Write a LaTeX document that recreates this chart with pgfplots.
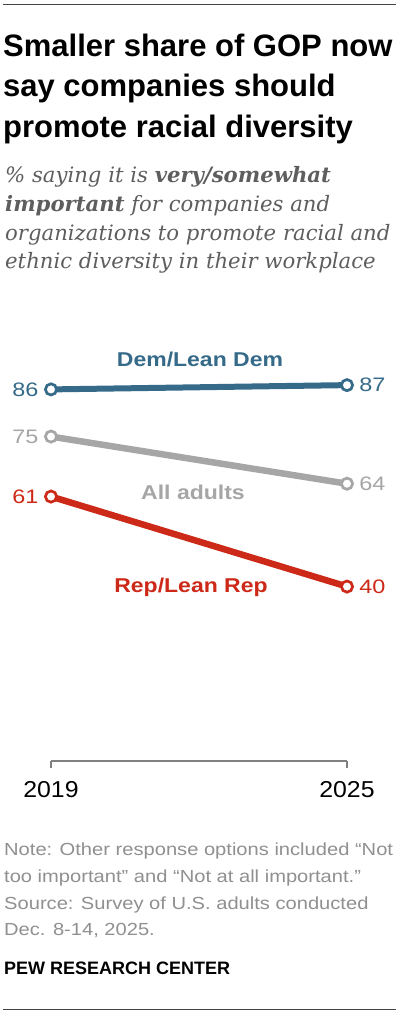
\documentclass[border=0pt]{standalone}
\usepackage{fontspec}
\setmainfont{Liberation Sans}
\newfontfamily\serifsub{DejaVu Serif}
\newfontfamily\widesans[FakeStretch=1.15]{Liberation Sans}
\newfontfamily\numsans[FakeStretch=1.2]{Liberation Sans}
\newfontfamily\ticksans[FakeStretch=1.08]{Liberation Sans}
\usepackage{pgfplots}
\pgfplotsset{compat=1.18}
\usepackage{pgfplotstable}

\definecolor{demblue}{RGB}{54,106,137}
\definecolor{allgray}{RGB}{166,166,166}
\definecolor{repred}{RGB}{205,41,24}
\definecolor{subgray}{RGB}{94,94,94}
\definecolor{notegray}{RGB}{144,144,144}
\definecolor{brgray}{RGB}{128,128,128}
\definecolor{rulegray}{RGB}{68,68,68}

\pgfplotstableread{
year val dx
2019 86 -25.5
2025 87 25.5
}\dem
\pgfplotstableread{
year val dx
2019 75 -25.5
2025 64 25.5
}\alladults
\pgfplotstableread{
year val dx
2019 61 -25.5
2025 40 25.5
}\rep

\pgfplotsset{
  serieslabels/.style={
    point meta=y,
    nodes near coords={\pgfmathprintnumber{\pgfplotspointmeta}},
    visualization depends on={\thisrow{dx}\as\dx},
    every node near coord/.append style={anchor=center, xshift={(\dx)*1bp}, inner sep=0pt, font=\numsans\fontsize{19.5bp}{19.5bp}\selectfont, text=#1},
  }
}

\begin{document}
\begin{tikzpicture}
\path[fill=white] (0,0) rectangle (400bp,-1016bp);
\draw[rulegray, line width=1bp] (3bp,-4.5bp) -- (396bp,-4.5bp);
\draw[rulegray, line width=1bp] (3bp,-1009.5bp) -- (396bp,-1009.5bp);

\begin{scope}[every node/.style={anchor=base west, inner sep=0pt}]
\node[font=\fontsize{31bp}{36bp}\selectfont\bfseries] at (3bp,-56bp) {Smaller share of GOP now};
\node[font=\fontsize{31bp}{36bp}\selectfont\bfseries] at (3bp,-96.5bp) {say companies should};
\node[font=\fontsize{31bp}{36bp}\selectfont\bfseries] at (3bp,-137bp) {promote racial diversity};

\node[text=subgray, font=\serifsub\itshape\fontsize{21.2bp}{21bp}\selectfont] at (5bp,-182bp) {\% saying it is \textbf{very/somewhat}};
\node[text=subgray, font=\serifsub\itshape\fontsize{21.2bp}{21bp}\selectfont] at (5bp,-211bp) {\textbf{important} for companies and};
\node[text=subgray, font=\serifsub\itshape\fontsize{21.2bp}{21bp}\selectfont] at (5bp,-240bp) {organizations to promote racial and};
\node[text=subgray, font=\serifsub\itshape\fontsize{21.2bp}{21bp}\selectfont] at (5bp,-268bp) {ethnic diversity in their workplace};

\node[text=notegray, font=\widesans\fontsize{17.5bp}{17.5bp}\selectfont] at (4bp,-855.7bp) {Note: Other response options included “Not};
\node[text=notegray, font=\widesans\fontsize{17.5bp}{17.5bp}\selectfont] at (4bp,-882.3bp) {too important” and “Not at all important.”};
\node[text=notegray, font=\widesans\fontsize{17.5bp}{17.5bp}\selectfont] at (4bp,-909bp) {Source: Survey of U.S. adults conducted};
\node[text=notegray, font=\widesans\fontsize{17.5bp}{17.5bp}\selectfont] at (4bp,-935.7bp) {Dec. 8-14, 2025.};

\node[text=black, font=\fontsize{18bp}{18bp}\selectfont\bfseries] at (4bp,-974bp) {PEW RESEARCH CENTER};
\end{scope}

\begin{axis}[
  at={(51bp,-761bp)}, anchor=south west,
  scale only axis, width=296bp, height=431.6bp,
  xmin=2019, xmax=2025, ymin=-0.7, ymax=100,
  axis y line=none, axis x line=bottom,
  x axis line style={-, draw=brgray, line width=2bp},
  xtick={2019,2025}, xticklabels={2019,2025},
  tick align=outside, major tick length=7bp,
  xtick style={draw=brgray, line width=2bp},
  xticklabel style={font=\ticksans\fontsize{23bp}{23bp}\selectfont, text=black, yshift=-10bp},
  clip=false,
  /pgf/number format/assume math mode=true,
]
\addplot[demblue, line width=6bp, mark=*, mark size=5.6bp,
  mark options={fill=white, draw=demblue, line width=2.7bp},
  serieslabels=demblue]
  table[x=year, y=val] {\dem};
\addplot[allgray, line width=6.5bp, mark=*, mark size=5.6bp,
  mark options={fill=white, draw=allgray, line width=2.7bp},
  serieslabels=allgray]
  table[x=year, y=val] {\alladults};
\addplot[repred, line width=6.5bp, mark=*, mark size=5.6bp,
  mark options={fill=white, draw=repred, line width=2.7bp},
  serieslabels=repred]
  table[x=year, y=val] {\rep};
\end{axis}

\node[anchor=base, inner sep=0pt, text=demblue, font=\widesans\fontsize{20bp}{20bp}\selectfont\bfseries] at (200bp,-366bp) {Dem/Lean Dem};
\node[anchor=base, inner sep=0pt, text=allgray, font=\widesans\fontsize{20bp}{20bp}\selectfont\bfseries] at (193bp,-499bp) {All adults};
\node[anchor=base, inner sep=0pt, text=repred, font=\widesans\fontsize{20bp}{20bp}\selectfont\bfseries] at (191bp,-592bp) {Rep/Lean Rep};
\end{tikzpicture}
\end{document}
